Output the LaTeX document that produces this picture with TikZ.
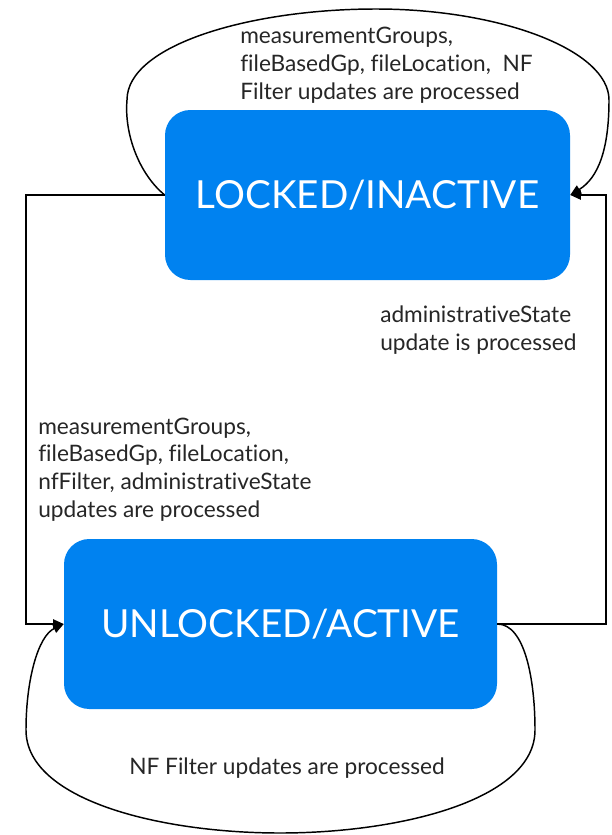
\documentclass[tikz,border=0pt]{standalone}
\usepackage{fontspec}
\setmainfont{Lato}[Ligatures=NoCommon]
\usetikzlibrary{arrows.meta}
\definecolor{stateblue}{RGB}{0,130,240}
\tikzset{
  statebox/.style={draw=none, fill=stateblue, rounded corners=19pt, text=white,
    minimum height=127.5pt, inner sep=0pt, font=\fontsize{29}{34}\selectfont},
  conn/.style={line width=1.1pt, black},
  arr/.style={conn, -{Triangle[length=8pt,width=7pt]}},
  lbl/.style={align=left, inner sep=0pt, font=\fontsize{17}{20.7}\selectfont, text=black!85}
}
\begin{document}
\begin{tikzpicture}[x=0.75pt,y=-0.75pt]
\useasboundingbox (0,0) rectangle (611,835);
\node[statebox, minimum width=303.75pt] (top) at (367.5,195) {LOCKED/INACTIVE};
\node[statebox, minimum width=324.75pt] (bot) at (280.5,624) {UNLOCKED/ACTIVE};
\coordinate (lc) at (26,400);
\coordinate (rc) at (606,400);
% transitions between states
\draw[arr] (top.west) -| (lc) |- (bot.west);
\draw[arr] (bot.east) -| (rc) |- (top.east);
% self loops
\draw[arr] (top.west) .. controls (140,175) and (124,135) .. (127,100)
  .. controls (127,45) and (250,9) .. (376,9)
  .. controls (500,9) and (609,50) .. (609,100)
  .. controls (609,150) and (598,178) .. (top.east);
\draw[arr] (bot.east) .. controls (525,624) and (535,680) .. (535,730)
  .. controls (535,800) and (400,833) .. (280,833)
  .. controls (160,833) and (26,800) .. (26,730)
  .. controls (26,680) and (38,636) .. (bot.west);
% labels (base anchor = baseline of the last line)
\node[lbl, anchor=base west] (l1) at (240,99) {measurementGroups,\\fileBasedGp, fileLocation,~ NF\\Filter updates are processed};
\node[lbl, anchor=base west] (l2) at (380,350) {administrativeState\\update is processed};
\node[lbl, anchor=base west] (l3) at (38,517) {measurementGroups,\\fileBasedGp, fileLocation,\\nfFilter, administrativeState\\updates are processed};
\node[lbl, anchor=base] (l4) at (287,774) {NF Filter updates are processed};
\end{tikzpicture}
\end{document}
